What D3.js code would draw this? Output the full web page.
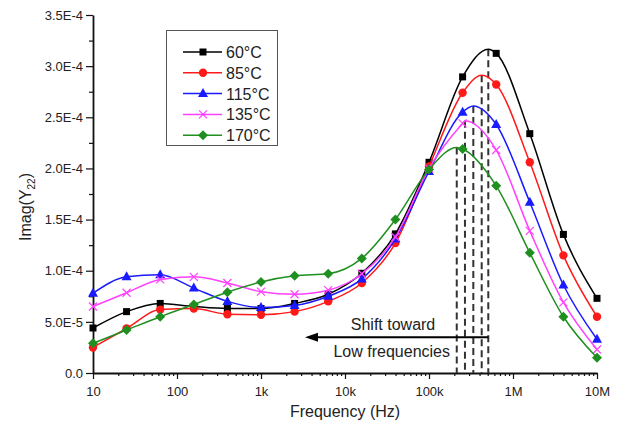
<!DOCTYPE html>
<html>
<head>
<meta charset="utf-8">
<script src="https://cdn.jsdelivr.net/npm/d3@7"></script>
<style>
  body { margin: 0; background: #fff; }
  text { font-family: "Liberation Sans", Arial, sans-serif; fill: #222; }
</style>
</head>
<body>
<svg id="chart" width="626" height="429"></svg>
<script>
// Frequencies (Hz) at which the measured points are marked
const freqs = [10, 25.1, 63.1, 158.5, 398, 1000, 2512, 6310, 15849, 39811,
               1e5, 2.512e5, 6.31e5, 1.585e6, 3.981e6, 1e7];

// Imag(Y22) in units of 1e-5 S for each temperature
const y60  = [4.4, 6.0, 6.8, 6.5, 6.3, 6.3, 6.8, 7.7, 9.75, 13.6, 20.6, 28.95, 31.25, 23.4, 13.55, 7.3];
const y85  = [2.5, 4.35, 6.2, 6.3, 5.75, 5.7, 6.0, 7.0, 8.8, 12.7, 20.2, 27.4, 28.2, 20.6, 11.5, 5.5];
const y115 = [7.8, 9.4, 9.6, 8.3, 7.0, 6.4, 6.6, 7.5, 9.2, 13.1, 19.7, 25.5, 24.3, 16.7, 8.6, 3.3];
const y135 = [6.5, 7.85, 9.15, 9.4, 8.8, 7.95, 7.7, 8.1, 9.7, 13.3, 20.0, 24.4, 21.8, 13.9, 6.9, 2.3];
const y170 = [2.9, 4.2, 5.5, 6.7, 7.9, 8.9, 9.5, 9.7, 11.2, 15.0, 19.9, 21.9, 18.3, 11.75, 5.5, 1.5];

// Resonance peak of each curve: frequency (Hz) and height (1e-5 S)
const peakFreq = [5.08e5, 4.24e5, 3.37e5, 2.68e5, 2.14e5];
const peakVal  = [31.65, 29.1, 26.1, 24.65, 22.05];

const seriesNames = ["60°C", "85°C", "115°C", "135°C", "170°C"];
const seriesColors = ["#000000", "#ff1a1a", "#1a1aff", "#ff40ff", "#1f8f1f"];
const seriesShapes = ["square", "circle", "triangle", "cross", "diamond"];
const seriesValues = [y60, y85, y115, y135, y170];

const xTickValues = [10, 100, 1000, 1e4, 1e5, 1e6, 1e7];
const xTickLabels = ["10", "100", "1k", "10k", "100k", "1M", "10M"];
const yTickValues = [0, 5e-5, 1e-4, 1.5e-4, 2e-4, 2.5e-4, 3e-4, 3.5e-4];
const yTickLabels = ["0.0", "5.0E-5", "1.0E-4", "1.5E-4", "2.0E-4", "2.5E-4", "3.0E-4", "3.5E-4"];
const UNIT = 1e-5;

const svg = d3.select("#chart");
const x = d3.scaleLog().domain([10, 1e7]).range([93, 597]);
const y = d3.scaleLinear().domain([0, 3.5e-4]).range([373, 15]);

// ---- axes ----
const minorX = [];
for (let d = 10; d < 1e7; d *= 10) for (let m = 2; m <= 9; m++) minorX.push(d * m);
const minorY = d3.range(0, 7).map(i => 2.5e-5 + i * 5e-5);

const gx = svg.append("g").attr("transform", "translate(0,373)");
gx.append("g").call(d3.axisBottom(x).tickValues(minorX).tickSize(3).tickFormat(""))
  .call(g => g.select(".domain").remove());
gx.append("g").call(d3.axisBottom(x).tickValues(xTickValues).tickSize(6).tickSizeOuter(0)
    .tickFormat((d, i) => xTickLabels[i]))
  .call(g => g.selectAll("text").attr("dy", "1.05em").style("font-size", "13px"));
gx.selectAll("line").attr("stroke", "#111").attr("stroke-width", 1.2);
gx.selectAll(".domain").attr("stroke", "#111").attr("stroke-width", 1.8);

const gy = svg.append("g").attr("transform", "translate(93,0)");
gy.append("g").call(d3.axisLeft(y).tickValues(minorY).tickSize(4).tickFormat(""))
  .call(g => g.select(".domain").remove());
gy.append("g").call(d3.axisLeft(y).tickValues(yTickValues).tickSize(7).tickSizeOuter(0)
    .tickFormat((d, i) => yTickLabels[i]))
  .call(g => g.selectAll("text").attr("x", -10).style("font-size", "13px"));
gy.selectAll("line").attr("stroke", "#111").attr("stroke-width", 1.2);
gy.selectAll(".domain").attr("stroke", "#111").attr("stroke-width", 1.8);
svg.selectAll(".tick text").attr("fill", "#222").style("font-family", "'Liberation Sans', Arial, sans-serif");

// axis titles
svg.append("text").attr("x", 345).attr("y", 417).attr("text-anchor", "middle")
  .style("font-size", "16px").text("Frequency (Hz)");
const yt = svg.append("text").attr("transform", "translate(31,207) rotate(-90)")
  .attr("text-anchor", "middle").style("font-size", "16px");
yt.append("tspan").text("Imag(Y");
yt.append("tspan").attr("dy", 4).style("font-size", "10px").text("22");
yt.append("tspan").attr("dy", -4).text(")");

// ---- peak markers (dashed verticals) ----
svg.append("g").selectAll("line").data(peakFreq).join("line")
  .attr("x1", d => x(d)).attr("x2", d => x(d))
  .attr("y1", (d, i) => y(peakVal[i] * UNIT)).attr("y2", y(0))
  .attr("stroke", "#333").attr("stroke-width", 2).attr("stroke-dasharray", "7,4");

// ---- curves ----
const line = d3.line().x(d => x(d[0])).y(d => y(d[1] * UNIT)).curve(d3.curveMonotoneX);

function marker(g, shape, color) {
  if (shape === "square") g.append("rect").attr("x", -3.5).attr("y", -3.5).attr("width", 7).attr("height", 7).attr("fill", color);
  else if (shape === "circle") g.append("circle").attr("r", 4.2).attr("fill", color);
  else if (shape === "triangle") g.append("path").attr("d", "M0,-5.5L5,3.5L-5,3.5Z").attr("fill", color);
  else if (shape === "diamond") g.append("path").attr("d", "M0,-5L5,0L0,5L-5,0Z").attr("fill", color);
  else g.append("path").attr("d", "M-4,-4L4,4M-4,4L4,-4").attr("stroke", color).attr("stroke-width", 1.2).attr("fill", "none");
}

seriesValues.forEach((vals, si) => {
  const pts = freqs.map((f, i) => [f, vals[i]]);
  pts.push([peakFreq[si], peakVal[si]]);
  pts.sort((a, b) => a[0] - b[0]);
  const g = svg.append("g");
  g.append("path").attr("d", line(pts)).attr("fill", "none")
    .attr("stroke", seriesColors[si]).attr("stroke-width", 1.5);
  freqs.forEach((f, i) => {
    const m = g.append("g").attr("transform", `translate(${x(f)},${y(vals[i] * UNIT)})`);
    marker(m, seriesShapes[si], seriesColors[si]);
  });
});

// ---- annotation ----
const arrowFrom = 5.08e5, arrowTo = 3342, arrowVal = 3.5;
svg.append("line").attr("x1", x(arrowFrom)).attr("x2", x(arrowTo) + 10)
  .attr("y1", y(arrowVal * UNIT)).attr("y2", y(arrowVal * UNIT))
  .attr("stroke", "#000").attr("stroke-width", 2);
svg.append("path")
  .attr("d", `M${x(arrowTo)},${y(arrowVal * UNIT)}l13,-4.5l0,9Z`).attr("fill", "#000");
svg.append("text").attr("x", x(37300)).attr("y", y(4.2 * UNIT)).attr("text-anchor", "middle")
  .style("font-size", "16px").text("Shift toward");
svg.append("text").attr("x", x(36000)).attr("y", y(1.55 * UNIT)).attr("text-anchor", "middle")
  .style("font-size", "16px").text("Low frequencies");

// ---- legend ----
const lg = svg.append("g");
lg.append("rect").attr("x", 166.5).attr("y", 30.5).attr("width", 111).attr("height", 115)
  .attr("fill", "#fff").attr("stroke", "#555").attr("stroke-width", 1);
seriesNames.forEach((n, i) => {
  const yy = 52 + i * 20.8;
  lg.append("line").attr("x1", 183).attr("x2", 222).attr("y1", yy).attr("y2", yy)
    .attr("stroke", seriesColors[i]).attr("stroke-width", 1.5);
  marker(lg.append("g").attr("transform", `translate(203,${yy})`), seriesShapes[i], seriesColors[i]);
  lg.append("text").attr("x", 226).attr("y", yy + 6).style("font-size", "16px").text(n);
});
</script>
</body>
</html>
